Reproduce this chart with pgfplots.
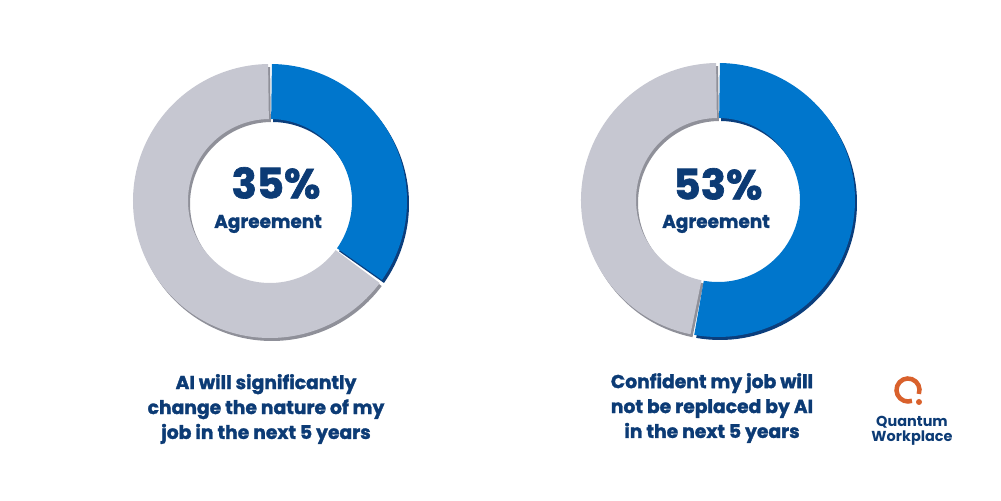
\documentclass[border=0pt]{standalone}
\usepackage{pgfplots}
\pgfplotsset{compat=1.18}
\usepackage{pgfplotstable}
\usepackage{fontspec}
\setmainfont{Poppins}
\newfontfamily\heavy{Poppins}[BoldFeatures={FakeBold=1.6}]
\definecolor{qblue}{HTML}{0076CC}
\definecolor{qblueS}{HTML}{0B3E7C}
\definecolor{qgrey}{HTML}{C6C7D1}
\definecolor{qgreyS}{HTML}{8F9099}
\definecolor{qnavy}{HTML}{0C3B75}
\definecolor{qorange}{HTML}{D9612C}

% donut data: percentage agreeing and the remainder
\pgfplotstableread{
chart cx  cy  agree other
1     270 300 35    65
2     718 301 53    47
}\donuts

\begin{document}
\begin{tikzpicture}
\pgfplotstablegetelem{0}{agree}\of\donuts \let\agA\pgfplotsretval
\pgfplotstablegetelem{1}{agree}\of\donuts \let\agB\pgfplotsretval
\pgfplotstablegetelem{0}{cx}\of\donuts \let\cxA\pgfplotsretval
\pgfplotstablegetelem{1}{cx}\of\donuts \let\cxB\pgfplotsretval
\pgfplotstablegetelem{0}{cy}\of\donuts \let\cyA\pgfplotsretval
\pgfplotstablegetelem{1}{cy}\of\donuts \let\cyB\pgfplotsretval
\pgfmathsetmacro{\eA}{90-3.6*\agA}
\pgfmathsetmacro{\eB}{90-3.6*\agB}
\def\Ro{137bp}
\def\Ri{82bp}
\def\gap{0.8}
% sector macro: #1 centre name, #2 start angle, #3 end angle (clockwise from #2 to #3), #4 style
\newcommand{\sector}[4]{%
  \fill[#4] (#1) ++({#2-\gap}:\Ro) arc[start angle={#2-\gap}, end angle={#3+\gap}, radius=\Ro]
     -- ([shift={({#3+\gap}:\Ri)}]#1) arc[start angle={#3+\gap}, end angle={#2-\gap}, radius=\Ri] -- cycle;}
\begin{axis}[
  x=1bp, y=1bp, xmin=0, xmax=1001, ymin=0, ymax=501,
  hide axis, clip=false, scale only axis]
\path (axis cs:0,0) rectangle (axis cs:1001,501);
\coordinate (cA) at (axis cs:\cxA,\cyA);
\coordinate (cB) at (axis cs:\cxB,\cyB);
\coordinate (sA) at (axis cs:\cxA+2,\cyA-3);
\coordinate (sB) at (axis cs:\cxB+2,\cyB-3);
% shadows
\sector{sA}{\eA}{-270}{qgreyS}
\sector{sA}{90}{\eA}{qblueS}
\sector{sB}{\eB}{-270}{qgreyS}
\sector{sB}{90}{\eB}{qblueS}
% slices
\sector{cA}{\eA}{-270}{qgrey}
\sector{cA}{90}{\eA}{qblue}
\sector{cB}{\eB}{-270}{qgrey}
\sector{cB}{90}{\eB}{qblue}
% centre labels
\node[inner sep=0pt, text=qnavy, font=\heavy\fontsize{42}{44}\selectfont\bfseries] at (axis cs:276,318) {\agA\%};
\node[inner sep=0pt, text=qnavy, font=\heavy\fontsize{18.5}{20}\selectfont\bfseries] at (axis cs:268,277) {Agreement};
\node[inner sep=0pt, text=qnavy, font=\heavy\fontsize{42}{44}\selectfont\bfseries] at (axis cs:718,317) {\agB\%};
\node[inner sep=0pt, text=qnavy, font=\heavy\fontsize{18.5}{20}\selectfont\bfseries] at (axis cs:716,277) {Agreement};
% captions
\node[text=qnavy, align=center, font=\heavy\fontsize{18.8}{25}\selectfont\bfseries] at (axis cs:266,92)
  {AI will significantly\\change the nature of my\\job in the next 5 years};
\node[text=qnavy, align=center, font=\heavy\fontsize{18.8}{25}\selectfont\bfseries] at (axis cs:712,93)
  {Confident my job will\\not be replaced by AI\\in the next 5 years};
% logo
\draw[qorange, line width=4.5bp] (axis cs:908,111) ++(-20:11.5bp) arc[start angle=-20, end angle=290, radius=11.5bp];
\fill[qorange] (axis cs:919,99) circle[radius=3bp];
\node[text=qnavy, align=center, font=\fontsize{14.5}{15.5}\selectfont\bfseries] at (axis cs:912,70) {Quantum\\Workplace};
\end{axis}
\end{tikzpicture}
\end{document}
